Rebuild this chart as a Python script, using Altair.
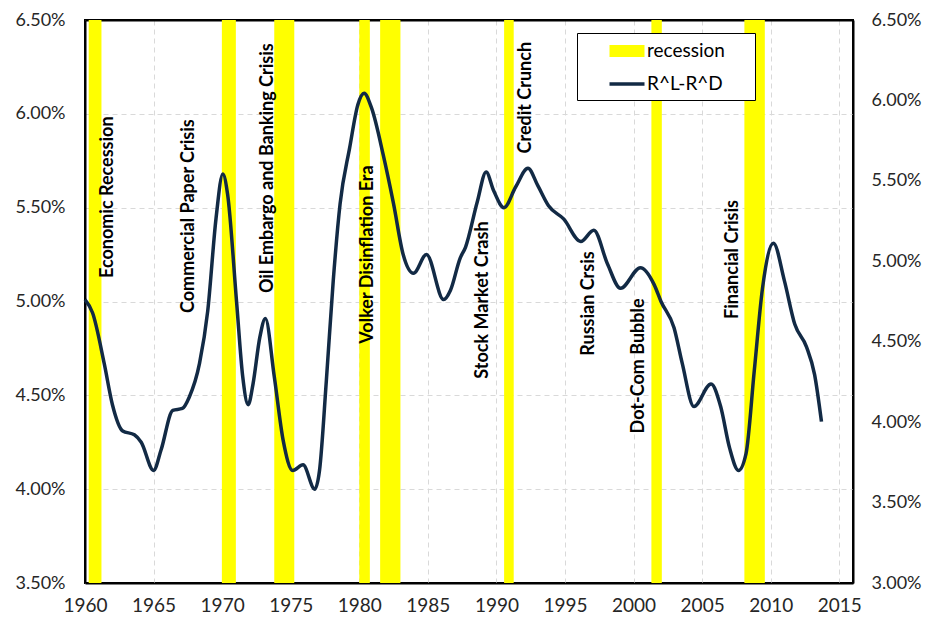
import altair as alt
import pandas as pd

# ---- data ----
years = [1960.0, 1960.55, 1961.4, 1962.0, 1962.75, 1963.6, 1964.1, 1965.0, 1965.55, 1966.4,
         1967.1, 1967.6, 1968.35, 1968.95, 1969.55, 1970.05, 1970.4, 1971.05, 1971.5, 1971.9,
         1972.25, 1972.75, 1973.15, 1973.8, 1974.45, 1975.15, 1975.9, 1976.75, 1977.1, 1977.6,
         1978.1, 1978.6, 1979.3, 1979.9, 1980.35, 1980.9, 1981.75, 1982.5, 1983.2, 1983.95,
         1984.9, 1986.15, 1986.65, 1987.35, 1987.75, 1988.6, 1989.25, 1989.8, 1990.55, 1991.4,
         1992.3, 1993.0, 1993.8, 1994.9, 1996.15, 1997.1, 1998.1, 1999.05, 2000.5, 2001.5,
         2002.0, 2002.95, 2003.55, 2004.4, 2005.65, 2006.35, 2007.0, 2007.65, 2008.2, 2008.8,
         2009.4, 2010.2, 2011.0, 2011.75, 2012.6, 2013.2, 2013.7]
spread_pct = [5.01, 4.94, 4.67, 4.45, 4.31, 4.29, 4.25, 4.10, 4.21, 4.42,
              4.43, 4.49, 4.67, 4.95, 5.44, 5.68, 5.57, 5.00, 4.60, 4.45,
              4.56, 4.81, 4.91, 4.60, 4.26, 4.10, 4.13, 4.00, 4.10, 4.58,
              5.11, 5.52, 5.82, 6.05, 6.11, 6.03, 5.78, 5.52, 5.25, 5.15,
              5.25, 5.01, 5.06, 5.23, 5.29, 5.53, 5.69, 5.59, 5.50, 5.61,
              5.71, 5.62, 5.51, 5.44, 5.32, 5.38, 5.20, 5.07, 5.18, 5.09,
              5.00, 4.86, 4.67, 4.44, 4.56, 4.44, 4.22, 4.10, 4.19, 4.63,
              5.07, 5.31, 5.11, 4.88, 4.76, 4.61, 4.36]

rec_start = [1960.27, 1969.98, 1973.8, 1980.0, 1981.52, 1990.56, 2001.3, 2008.08]
rec_end = [1961.2, 1971.0, 1975.26, 1980.77, 1983.0, 1991.26, 2002.06, 2009.57]

ann_text = ["Economic Recession", "Commercial Paper Crisis", "Oil Embargo and Banking Crisis",
            "Volker Disinflation Era", "Stock Market Crash", "Credit Crunch", "Russian Crsis",
            "Dot-Com Bubble", "Financial Crisis"]
ann_year = [1961.71, 1967.56, 1973.33, 1980.64, 1989.05, 1992.12, 1996.73, 2000.38, 2007.25]
ann_pct = [5.125, 4.939, 5.045, 4.775, 4.589, 5.789, 4.711, 4.297, 4.907]

series_names = ["recession", "R^L-R^D"]
x_ticks = [1960, 1965, 1970, 1975, 1980, 1985, 1990, 1995, 2000, 2005, 2010, 2015]
left_ticks_pct = [3.5, 4.0, 4.5, 5.0, 5.5, 6.0, 6.5]
right_ticks_pct = [3.0, 3.5, 4.0, 4.5, 5.0, 5.5, 6.0, 6.5]

# ---- tables ----
line_df = pd.DataFrame({"year": years, "value": [v / 100 for v in spread_pct], "series": series_names[1]})
rec_df = pd.DataFrame({"start": rec_start, "end": rec_end,
                       "lo": left_ticks_pct[0] / 100, "hi": left_ticks_pct[-1] / 100,
                       "series": series_names[0]})
ann_df = pd.DataFrame({"label": ann_text, "year": ann_year, "value": [v / 100 for v in ann_pct]})
right_df = pd.DataFrame({"v": [v / 100 for v in right_ticks_pct]})

FONT = "Lato"
YELLOW = "#ffff00"
NAVY = "#122a45"
x_scale = alt.Scale(domain=[1960, 2016], nice=False, zero=False)
y_scale = alt.Scale(domain=[left_ticks_pct[0] / 100, left_ticks_pct[-1] / 100], nice=False, zero=False)
fill_scale = alt.Scale(domain=series_names, range=[YELLOW, "transparent"])
stroke_scale = alt.Scale(domain=series_names, range=["transparent", NAVY])

top_test = "datum.value > 0.0649"
x_axis = alt.Axis(values=x_ticks, format="d", grid=True, gridDash=[5, 4], gridColor="#d9d9d9",
                  domainColor="black", domainWidth=2, ticks=False, labelPadding=13, title=None,
                  labelFlush=False, labelFontSize=19)
left_axis = alt.Axis(values=[v / 100 for v in left_ticks_pct], format=".2%", grid=True,
                     gridDash={"condition": {"test": top_test, "value": []}, "value": [5, 4]},
                     gridColor={"condition": {"test": top_test, "value": "black"}, "value": "#d9d9d9"},
                     gridWidth={"condition": {"test": top_test, "value": 2}, "value": 1},
                     domainColor="black", domainWidth=2,
                     ticks=False, labelPadding=20, title=None, labelFlush=False)
right_axis = alt.Axis(orient="right", values=[v / 100 for v in right_ticks_pct], format=".2%",
                      grid=False, domainColor="black", domainWidth=2, ticks=False,
                      labelPadding=18, title=None, labelFlush=False)

legend = alt.Legend(
    title=" ", titleOrient="right", titlePadding=24, titleFontSize=11,
    orient="none", legendX=492, legendY=13, direction="vertical",
    strokeColor="black", fillColor="white", padding=6, rowPadding=8,
    labelFont=FONT, labelFontSize=19, labelColor="black",
    symbolSize=400, symbolOffset=32, labelOffset=8, symbolStrokeWidth=3.5, symbolOpacity=1,
    symbolType={"expr": "datum.value === 'recession' ? 'M-1.75,-0.6H1.75V0.6H-1.75Z' : 'M-1.75,0H1.75'"},
)

rects = alt.Chart(rec_df).mark_rect().encode(
    x=alt.X("start:Q", scale=x_scale, axis=x_axis),
    x2="end:Q",
    y=alt.Y("lo:Q", scale=y_scale, axis=left_axis),
    y2="hi:Q",
    fill=alt.Fill("series:N", scale=fill_scale, legend=legend),
)

line = alt.Chart(line_df).mark_line(interpolate="monotone", strokeWidth=3.5).encode(
    x=alt.X("year:Q", scale=x_scale),
    y=alt.Y("value:Q", scale=y_scale),
    stroke=alt.Stroke("series:N", scale=stroke_scale, legend=legend),
)

texts = alt.Chart(ann_df).mark_text(angle=270, align="left", baseline="middle", font=FONT,
                                    fontSize=18, fontWeight="bold", color="black").encode(
    x=alt.X("year:Q", scale=x_scale),
    y=alt.Y("value:Q", scale=y_scale),
    text="label:N",
)

base = alt.layer(rects, line, texts)

right = alt.Chart(right_df).mark_point(opacity=0).encode(
    y=alt.Y("v:Q", scale=alt.Scale(domain=[right_ticks_pct[0] / 100, right_ticks_pct[-1] / 100],
                                   nice=False, zero=False), axis=right_axis),
)

chart = alt.layer(base, right).resolve_scale(y="independent").properties(
    width=768, height=563,
    autosize=alt.AutoSizeParams(type="none"),
    padding={"left": 77, "top": 12, "right": 70, "bottom": 34},
).configure_axis(
    labelFont=FONT, labelFontSize=18, labelColor="#262626",
).configure_view(
    stroke="black", strokeWidth=2,
)

chart.save("out.html", embed_options={"renderer": "svg", "actions": False})
